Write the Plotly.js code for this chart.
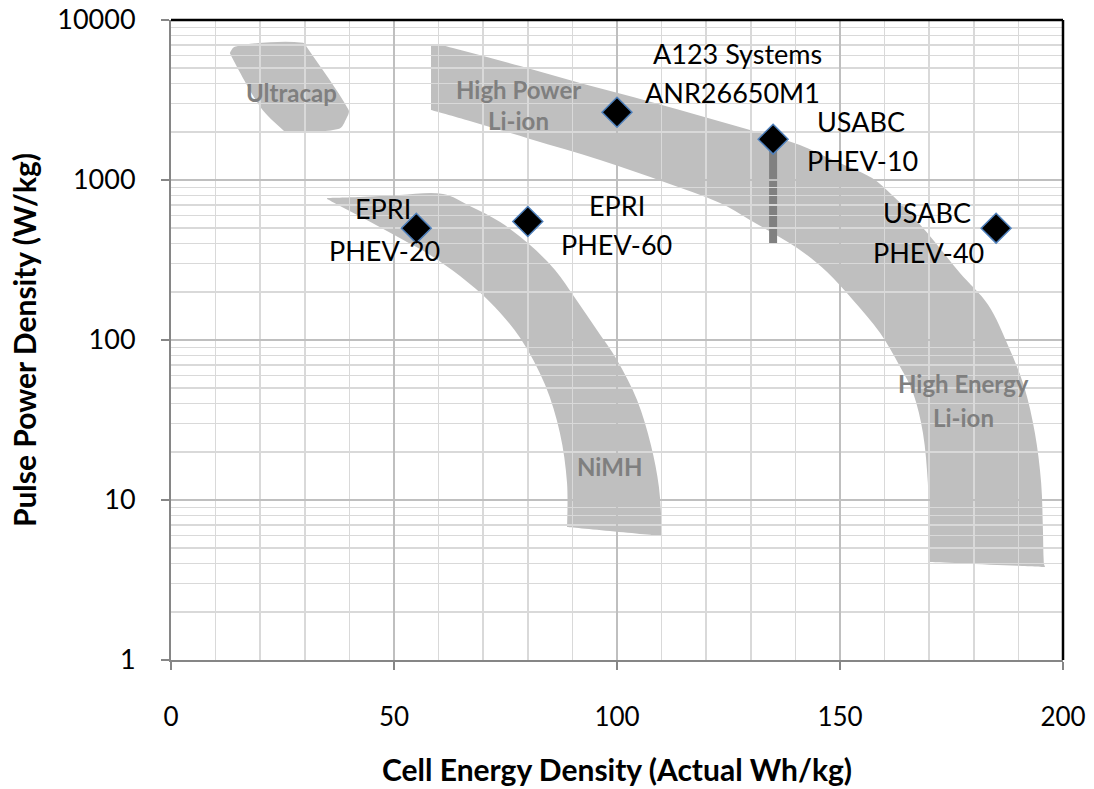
<!DOCTYPE html>
<html>
<head>
<meta charset="utf-8">
<script src="https://cdn.plot.ly/plotly-3.0.1.min.js"></script>
<style>
  html, body { margin: 0; padding: 0; background: #ffffff; }
  #chart { width: 1094px; height: 789px; }
</style>
</head>
<body>
<div id="chart"></div>
<script>
// Cell energy density vs pulse power density for battery targets and cells
const pointLine1 = ['EPRI', 'EPRI', 'A123 Systems', 'USABC', 'USABC'];
const pointLine2 = ['PHEV-20', 'PHEV-60', 'ANR26650M1', 'PHEV-10', 'PHEV-40'];
const energyWhKg = [55, 80, 100, 135, 185];
const powerWKg = [500, 550, 2650, 1800, 500];

// PHEV-10 power requirement span
const phev10SpanX = [135, 135];
const phev10SpanY = [1800, 400];

// technology regions: outline vertices (Wh/kg, W/kg)
const ultracapX = [13.2, 14.3, 22.2, 29.6, 30.4, 39.8, 39.4, 37.5, 25.9, 25.1, 20.0];
const ultracapY = [6200, 6800, 7250, 7200, 6800, 2750, 2450, 2080, 2000, 2050, 2870];

const liIonX = [58.3, 60.3, 63.2, 78.3, 91.7, 103.6, 114.1, 131.4, 141.0, 148.4, 157.2, 161.9, 165.0,
                170.9, 176.9, 183.2, 187.7, 191.3, 193.7, 195.1, 195.5, 195.7, 196.0,
                170.2, 170.0, 169.7, 168.6, 166.4, 163.5, 159.0, 152.9, 147.1, 140.4,
                129.8, 123.1, 111.2, 96.2, 80.5, 67.0, 58.3];
const liIonY = [6880, 6980, 6680, 5160, 4040, 3300, 2740, 1995, 1655, 1334, 1029, 794, 649,
                422, 262, 166, 92, 51, 26.2, 12.8, 6.5, 4.04, 3.81,
                4.1, 6.5, 12.8, 26.2, 46.6, 67.8, 110.6, 177.8, 266, 376,
                562, 718, 958, 1334, 1804, 2338, 2738];

const nimhX = [35.0, 42.4, 51.3, 61.0, 67.0, 73.8, 80.5, 86.1, 90.6, 95.5, 100.0, 104.5,
               107.6, 109.4, 110.1, 110.1, 88.8, 88.8, 87.2, 83.9, 78.3, 71.5, 64.8,
               58.1, 51.3, 43.9, 37.9, 35.0];
const nimhY = [772, 783, 806, 818, 688, 546, 392, 274, 183, 115.5, 75, 42.2,
               22.1, 12.05, 6.22, 5.96, 6.78, 12.77, 26.2, 52.3, 102.9, 172.8, 251,
               340, 434, 562, 688, 761];

// axis ticks
const yTickVals = [1, 10, 100, 1000, 10000];
const yTickText = ['1', '10', '100', '1000', '10000'];
const xTickVals = [0, 50, 100, 150, 200];
const xTickText = ['0', '50', '100', '150', '200'];

const FONT = 'Lato, "Open Sans", sans-serif';
const REGION_FILL = '#bfbfbf';
const REGION_TEXT = '#7f7f7f';

// Closed outline as a smooth path through the vertices. The curve is worked
// out in screen-like units (x scaled, log10 y scaled) so it is smooth on the
// log axis; sharp turns are kept as corners.
const SX = 4.46, SY = 160;
function outlinePath(xs, ys) {
  const pts = xs.map((x, i) => [x * SX, Math.log10(ys[i]) * SY]);
  const a = pts[0], b = pts[pts.length - 1];
  if (Math.hypot(a[0] - b[0], a[1] - b[1]) < 0.5) pts.pop();
  const n = pts.length;
  const sub = (p, q) => [p[0] - q[0], p[1] - q[1]];
  const len = v => Math.hypot(v[0], v[1]);
  const tangents = pts.map((p, i) => {
    const prev = pts[(i - 1 + n) % n], next = pts[(i + 1) % n];
    const vin = sub(p, prev), vout = sub(next, p);
    const cos = (vin[0] * vout[0] + vin[1] * vout[1]) / (len(vin) * len(vout));
    if (cos < Math.cos(55 * Math.PI / 180)) return [0, 0];
    const t = sub(next, prev), l = len(t);
    return [t[0] / l, t[1] / l];
  });
  const fmt = p => (p[0] / SX).toFixed(3) + ',' + Math.pow(10, p[1] / SY).toFixed(4);
  let d = 'M' + fmt(pts[0]);
  for (let i = 0; i < n; i++) {
    const j = (i + 1) % n;
    const p1 = pts[i], p2 = pts[j];
    const k = len(sub(p2, p1)) * 0.33;
    const c1 = [p1[0] + tangents[i][0] * k, p1[1] + tangents[i][1] * k];
    const c2 = [p2[0] - tangents[j][0] * k, p2[1] - tangents[j][1] * k];
    d += ' C' + fmt(c1) + ' ' + fmt(c2) + ' ' + fmt(p2);
  }
  return d + ' Z';
}

const shapes = [
  { type: 'path', xref: 'x', yref: 'y', layer: 'below', path: outlinePath(ultracapX, ultracapY),
    fillcolor: REGION_FILL, line: { width: 0 } },
  { type: 'path', xref: 'x', yref: 'y', layer: 'below', path: outlinePath(liIonX, liIonY),
    fillcolor: REGION_FILL, line: { width: 0 } },
  { type: 'path', xref: 'x', yref: 'y', layer: 'below', path: outlinePath(nimhX, nimhY),
    fillcolor: REGION_FILL, line: { width: 0 } },
  { type: 'line', xref: 'x', yref: 'y', layer: 'below',
    x0: phev10SpanX[0], x1: phev10SpanX[1], y0: phev10SpanY[0], y1: phev10SpanY[1],
    line: { color: '#808080', width: 8 } },
  // plot frame: top and right edges
  { type: 'line', xref: 'paper', yref: 'paper', x0: 0, x1: 1, y0: 1, y1: 1,
    line: { color: '#000000', width: 2.5 } },
  { type: 'line', xref: 'paper', yref: 'paper', x0: 1, x1: 1, y0: 0, y1: 1,
    line: { color: '#000000', width: 2.5 } }
];

// region names
const regionLabels = [
  { text: 'Ultracap', x: 27.1, y: 3500 },
  { text: 'High Power', x: 78.0, y: 3700 },
  { text: 'Li-ion', x: 78.0, y: 2340 },
  { text: 'NiMH', x: 98.4, y: 16.1 },
  { text: 'High Energy', x: 177.8, y: 53.1 },
  { text: 'Li-ion', x: 177.8, y: 33.0 }
];

const annotations = regionLabels.map(r => ({
  text: r.text, x: r.x, y: Math.log10(r.y), xref: 'x', yref: 'y',
  showarrow: false, xanchor: 'center', yanchor: 'middle',
  font: { family: FONT, size: 24, color: REGION_TEXT, weight: 'bold' }
}));

// data labels: two lines per point, offset from the marker
const labelShift = [
  [[-33, 20], [-32, -22]],
  [[89, 16], [89, -23]],
  [[120, 59], [115, 20]],
  [[88, 18], [89, -21]],
  [[-69, 16], [-68, -24]]
];
energyWhKg.forEach((x, i) => {
  [pointLine1[i], pointLine2[i]].forEach((t, j) => {
    annotations.push({
      text: t, x: x, y: Math.log10(powerWKg[i]), xref: 'x', yref: 'y',
      xshift: labelShift[i][j][0], yshift: labelShift[i][j][1],
      showarrow: false, xanchor: 'center', yanchor: 'middle',
      font: { family: FONT, size: 27, color: '#000000' }
    });
  });
});

const trace = {
  type: 'scatter', mode: 'markers',
  x: energyWhKg, y: powerWKg,
  marker: { symbol: 'diamond', size: 23, color: '#000000', line: { color: '#4f81bd', width: 1.5 } },
  cliponaxis: false, hoverinfo: 'skip'
};

const layout = {
  width: 1094, height: 789,
  margin: { l: 171, r: 31, t: 20, b: 129 },
  paper_bgcolor: '#ffffff', plot_bgcolor: '#ffffff',
  showlegend: false,
  font: { family: FONT, color: '#000000' },
  xaxis: {
    range: [0, 200], tickmode: 'array', tickvals: xTickVals, ticktext: xTickText,
    showgrid: true, gridcolor: '#bfbfbf', gridwidth: 1.5,
    minor: { dtick: 10, tick0: 0, showgrid: true, gridcolor: '#d9d9d9', gridwidth: 1.5 },
    zeroline: false, showline: true, linecolor: '#868686', linewidth: 2,
    ticks: 'outside', ticklen: 8, tickwidth: 1.5, tickcolor: '#868686',
    tickfont: { family: FONT, size: 26, color: '#000000' }, ticklabelstandoff: 25,
    title: { text: 'Cell Energy Density (Actual Wh/kg)', standoff: 29,
             font: { family: FONT, size: 30, color: '#000000', weight: 'bold' } },
    automargin: false
  },
  yaxis: {
    type: 'log', range: [0, 4], tickmode: 'array', tickvals: yTickVals, ticktext: yTickText,
    showgrid: true, gridcolor: '#bfbfbf', gridwidth: 1.5,
    minor: { dtick: 'D1', showgrid: true, gridcolor: '#d9d9d9', gridwidth: 1.5 },
    zeroline: false, showline: true, linecolor: '#868686', linewidth: 2,
    ticks: 'outside', ticklen: 8, tickwidth: 1.5, tickcolor: '#868686',
    tickfont: { family: FONT, size: 27, color: '#000000' }, ticklabelstandoff: 20,
    title: { text: 'Pulse Power Density (W/kg)', standoff: 12,
             font: { family: FONT, size: 30, color: '#000000', weight: 'bold' } },
    automargin: false
  },
  shapes: shapes,
  annotations: annotations
};

Plotly.newPlot('chart', [trace], layout, { staticPlot: true, displayModeBar: false });
</script>
</body>
</html>
